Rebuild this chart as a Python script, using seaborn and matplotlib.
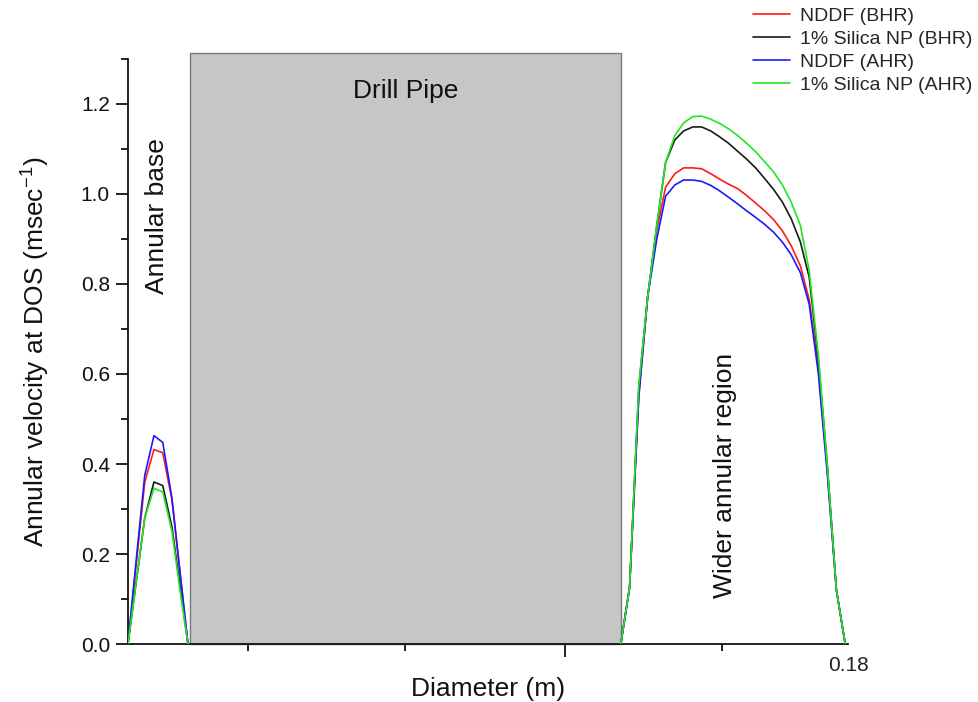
import numpy as np
import pandas as pd
import matplotlib
matplotlib.use("Agg")
import matplotlib.pyplot as plt
import seaborn as sns
from matplotlib.patches import Rectangle
from matplotlib.ticker import FixedLocator, NullFormatter

# ---------------- data ----------------
series_names = ["NDDF (BHR)", "1% Silica NP (BHR)", "NDDF (AHR)", "1% Silica NP (AHR)"]
series_colors = ["#ff1a1a", "#1a1a1a", "#1a1aff", "#22e622"]

# Annular base (narrow side) diameter positions (m)
x_left = [0.0, 0.0021, 0.0042, 0.0065, 0.0087, 0.0110, 0.0130, 0.0150]
left_red   = [0.0, 0.18, 0.36, 0.432, 0.425, 0.32, 0.16, 0.0]
left_black = [0.0, 0.14, 0.28, 0.360, 0.352, 0.26, 0.13, 0.0]
left_blue  = [0.0, 0.19, 0.375, 0.463, 0.448, 0.324, 0.16, 0.0]
left_green = [0.0, 0.14, 0.28, 0.346, 0.338, 0.25, 0.12, 0.0]

# Wider annular region diameter positions (m)
x_right = [0.1232, 0.1254, 0.1277, 0.1299, 0.1322, 0.1344, 0.1367, 0.1389,
           0.1412, 0.1434, 0.1457, 0.1479, 0.1501, 0.1524, 0.1546, 0.1569,
           0.1591, 0.1614, 0.1636, 0.1658, 0.1681, 0.1703, 0.1726, 0.1748,
           0.1771, 0.1793]
right_red   = [0.0, 0.126, 0.55, 0.77, 0.92, 1.015, 1.045, 1.058, 1.058, 1.056,
               1.045, 1.033, 1.022, 1.012, 0.997, 0.980, 0.963, 0.943, 0.918,
               0.885, 0.840, 0.765, 0.610, 0.390, 0.120, 0.0]
right_black = [0.0, 0.126, 0.57, 0.77, 0.93, 1.07, 1.12, 1.14, 1.149, 1.149,
               1.140, 1.127, 1.113, 1.095, 1.078, 1.058, 1.035, 1.010, 0.982,
               0.945, 0.893, 0.815, 0.630, 0.400, 0.120, 0.0]
right_blue  = [0.0, 0.126, 0.55, 0.77, 0.90, 0.995, 1.02, 1.031, 1.031, 1.028,
               1.019, 1.007, 0.993, 0.978, 0.963, 0.948, 0.933, 0.915, 0.893,
               0.865, 0.825, 0.755, 0.600, 0.380, 0.120, 0.0]
right_green = [0.0, 0.126, 0.575, 0.77, 0.93, 1.07, 1.13, 1.158, 1.172, 1.173,
               1.166, 1.157, 1.145, 1.130, 1.113, 1.094, 1.072, 1.049, 1.020,
               0.982, 0.930, 0.830, 0.640, 0.400, 0.120, 0.0]

drill_pipe_x = (0.01546, 0.1232)
drill_pipe_top = 1.313

left_vals = [left_red, left_black, left_blue, left_green]
right_vals = [right_red, right_black, right_blue, right_green]

rows = []
for name, lv, rv in zip(series_names, left_vals, right_vals):
    for x, y in zip(x_left, lv):
        rows.append((name, "left", x, y))
    for x, y in zip(x_right, rv):
        rows.append((name, "right", x, y))
df = pd.DataFrame(rows, columns=["series", "region", "x", "y"])

# ---------------- plot ----------------
sns.set_theme(style="ticks")
plt.rcParams["font.family"] = ["Liberation Sans", "DejaVu Sans"]

fig = plt.figure(figsize=(9.79, 7.02), dpi=100)
ax = fig.add_axes([0.1307, 0.0826, 0.8662 - 0.1307, 0.916 - 0.0826])

ax.add_patch(Rectangle((drill_pipe_x[0], 0), drill_pipe_x[1] - drill_pipe_x[0],
                       drill_pipe_top, facecolor="#c6c6c6", edgecolor="#7a7a7a",
                       linewidth=1.0, clip_on=False, zorder=1))

sns.lineplot(data=df, x="x", y="y", hue="series", units="region", estimator=None,
             hue_order=series_names, palette=dict(zip(series_names, series_colors)),
             linewidth=1.2, ax=ax, legend=False, sort=False, zorder=3)

ax.set_xlim(0, 0.18)
ax.set_ylim(0, 1.3)
sns.despine(ax=ax)
for s in ["left", "bottom"]:
    ax.spines[s].set_linewidth(1.3)
    ax.spines[s].set_color("#111111")

ax.set_yticks([0.0, 0.2, 0.4, 0.6, 0.8, 1.0, 1.2])
ax.set_yticklabels(["0.0", "0.2", "0.4", "0.6", "0.8", "1.0", "1.2"])
ax.yaxis.set_minor_locator(FixedLocator([0.1, 0.3, 0.5, 0.7, 0.9, 1.1, 1.3]))
ax.set_xticks([0.1092])
ax.set_xticklabels([""])
ax.xaxis.set_minor_locator(FixedLocator([0.0299, 0.0693, 0.1486]))
ax.xaxis.set_minor_formatter(NullFormatter())
ax.tick_params(axis="both", which="major", direction="out", length=9, width=1.3,
               labelsize=15, colors="#111111", pad=4)
ax.tick_params(axis="both", which="minor", direction="out", length=5, width=1.3,
               colors="#111111")
ax.text(0.18, -0.026, "0.18", transform=ax.transData, ha="center", va="top",
        fontsize=15, color="#222222", clip_on=False)

ax.set_xlabel("Diameter (m)", fontsize=19, color="#111111")
ax.xaxis.set_label_coords(0.5, -0.056)
ax.set_ylabel("Annular velocity at DOS (msec$^{\\mathregular{-1}}$)", fontsize=19,
              color="#111111")
ax.yaxis.set_label_coords(-0.107, 0.5)

ax.text(0.0695, 1.229, "Drill Pipe", ha="center", va="center", fontsize=19,
        color="#111111", zorder=4)
ax.text(0.0073, 0.952, "Annular base", rotation=90, ha="center", va="center",
        fontsize=19, color="#111111")
ax.text(0.1493, 0.375, "Wider annular region", rotation=90, ha="center",
        va="center", fontsize=19, color="#111111")

handles = [plt.Line2D([], [], color=c, linewidth=1.2) for c in series_colors]
fig.legend(handles, series_names, loc="upper left",
           bbox_to_anchor=(0.757, 1.006), frameon=False, fontsize=14,
           handlelength=1.9, handletextpad=0.55, labelspacing=0.28,
           borderaxespad=0.2)

fig.savefig("out.png", dpi=100, facecolor="white")
